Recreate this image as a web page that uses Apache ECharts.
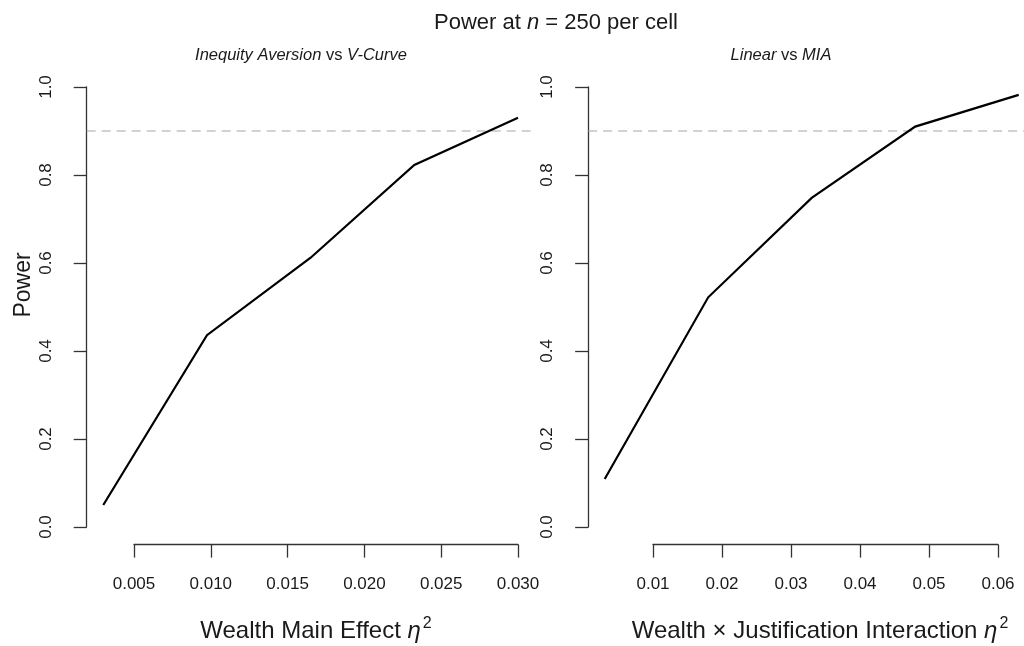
<!DOCTYPE html>
<html>
<head>
<meta charset="utf-8">
<script src="https://cdn.jsdelivr.net/npm/echarts@6/dist/echarts.min.js"></script>
<style>
  html, body { margin: 0; padding: 0; background: #ffffff; }
  #chart { width: 1024px; height: 646px; }
</style>
</head>
<body>
<div id="chart"></div>
<script>
// Simulated power for each effect size (eta squared), n = 250 per cell
const mainEffectEta2 = [0.003, 0.00975, 0.0165, 0.02325, 0.030];
const mainEffectPower = [0.050, 0.436, 0.612, 0.823, 0.930];
const interactionEta2 = [0.003, 0.018, 0.033, 0.048, 0.063];
const interactionPower = [0.109, 0.522, 0.748, 0.910, 0.982];

// Axis ticks
const mainEffectTicks = [0.005, 0.010, 0.015, 0.020, 0.025, 0.030];
const interactionTicks = [0.01, 0.02, 0.03, 0.04, 0.05, 0.06];
const powerTicks = [0.0, 0.2, 0.4, 0.6, 0.8, 1.0];

// Target power reference line
const targetPower = 0.9;

const FONT = '"Liberation Sans", Arial, Helvetica, sans-serif';
const INK = '#1a1a1a';
const AXIS = '#333333';

// Each panel uses two grids sharing one scale:
//  - an axis grid spanning the outer tick marks (axes drawn here), and
//  - a plot grid padded by 4% of the data range on each side (lines drawn here).
const plotTop = 87, plotHeight = 440;
const panels = [
  { left: 134, width: 384, eta: mainEffectEta2, power: mainEffectPower, ticks: mainEffectTicks, digits: 3 },
  { left: 653, width: 345, eta: interactionEta2, power: interactionPower, ticks: interactionTicks, digits: 2 }
];

function paddedRange(vals) {
  const lo = Math.min(...vals), hi = Math.max(...vals);
  const pad = 0.04 * (hi - lo);
  return [lo - pad, hi + pad];
}

const grids = [], xAxes = [], yAxes = [], series = [];
const p0 = powerTicks[0], p1 = powerTicks[powerTicks.length - 1];
const [ylo, yhi] = paddedRange(powerTicks);
const pxPerPower = plotHeight / (p1 - p0);
const yPadPx = (p0 - ylo) * pxPerPower;

panels.forEach((p, i) => {
  const t0 = p.ticks[0], t1 = p.ticks[p.ticks.length - 1];
  const [xlo, xhi] = paddedRange(p.eta);
  const pxPerUnit = p.width / (t1 - t0);
  const xPadLeft = (t0 - xlo) * pxPerUnit;

  // axis grid
  const ai = grids.length;
  grids.push({ left: p.left, top: plotTop, width: p.width, height: plotHeight,
               containLabel: false, outerBoundsMode: 'none' });
  xAxes.push({
    gridIndex: ai, type: 'value', min: t0, max: t1, interval: p.ticks[1] - p.ticks[0],
    position: 'bottom', offset: yPadPx,
    axisLine: { show: true, onZero: false, lineStyle: { color: AXIS, width: 1.3 } },
    axisTick: { show: true, inside: false, length: 13, lineStyle: { color: AXIS, width: 1.3 } },
    axisLabel: { show: true, margin: 31, color: INK, fontFamily: FONT, fontSize: 17,
                 formatter: v => v.toFixed(p.digits) },
    splitLine: { show: false }
  });
  yAxes.push({
    gridIndex: ai, type: 'value', min: p0, max: p1, interval: powerTicks[1] - powerTicks[0],
    position: 'left', offset: xPadLeft,
    axisLine: { show: true, onZero: false, lineStyle: { color: AXIS, width: 1.3 } },
    axisTick: { show: true, inside: false, length: 13, lineStyle: { color: AXIS, width: 1.3 } },
    axisLabel: { show: true, rotate: 90, margin: 32, color: INK, fontFamily: FONT, fontSize: 17,
                 formatter: v => v.toFixed(1) },
    splitLine: { show: false }
  });

  // plot grid
  const pi = grids.length;
  grids.push({ left: p.left - xPadLeft, top: plotTop - yPadPx,
               width: (xhi - xlo) * pxPerUnit, height: (yhi - ylo) * pxPerPower,
               containLabel: false, outerBoundsMode: 'none' });
  xAxes.push({ gridIndex: pi, type: 'value', min: xlo, max: xhi, show: false });
  yAxes.push({ gridIndex: pi, type: 'value', min: ylo, max: yhi, show: false });

  series.push({
    type: 'line', xAxisIndex: pi, yAxisIndex: pi, silent: true,
    symbol: 'none', z: 1,
    lineStyle: { color: '#a6a6a6', width: 1.2, type: [9, 6] },
    data: [[xlo, targetPower], [xhi, targetPower]]
  });
  series.push({
    type: 'line', xAxisIndex: pi, yAxisIndex: pi, silent: true,
    symbol: 'none', z: 2,
    lineStyle: { color: '#000000', width: 2.2, join: 'miter' },
    data: p.eta.map((x, k) => [x, p.power[k]])
  });
});

function label(x, y, text, rich, rotation) {
  return {
    type: 'text', x: x, y: y, rotation: rotation || 0, silent: true,
    style: {
      text: text, rich: rich, fill: INK,
      align: 'center', verticalAlign: 'middle',
      textAlign: 'center', textVerticalAlign: 'middle'
    }
  };
}

const plain = (size) => ({ fontFamily: FONT, fontSize: size, color: INK, fill: INK });
const ital = (size) => ({ fontFamily: FONT, fontSize: size, fontStyle: 'italic', color: INK, fill: INK });
const axisTitleRich = {
  t: Object.assign(plain(24), { lineHeight: 30 }),
  e: Object.assign(ital(24), { lineHeight: 30 }),
  s: Object.assign(plain(16), { lineHeight: 16, verticalAlign: 'top', padding: [0, 0, 0, 2] })
};

const graphics = [
  label(556, 23, '{t|Power at }{i|n}{t| = 250 per cell}', { t: plain(22), i: ital(22) }),
  label(301, 55, '{i|Inequity Aversion}{t| vs }{i|V-Curve}', { t: plain(16.5), i: ital(16.5) }),
  label(781, 55, '{i|Linear}{t| vs }{i|MIA}', { t: plain(16.5), i: ital(16.5) }),
  label(316, 631, '{t|Wealth Main Effect }{e|η}{s|2}', axisTitleRich),
  label(820, 631, '{t|Wealth × Justification Interaction }{e|η}{s|2}', axisTitleRich),
  label(24, 285, '{t|Power}', { t: plain(23) }, Math.PI / 2)
];

const chart = echarts.init(document.getElementById('chart'), null, { renderer: 'canvas' });
chart.setOption({
  animation: false,
  backgroundColor: '#ffffff',
  grid: grids,
  xAxis: xAxes,
  yAxis: yAxes,
  series: series,
  graphic: { elements: graphics }
});
</script>
</body>
</html>
